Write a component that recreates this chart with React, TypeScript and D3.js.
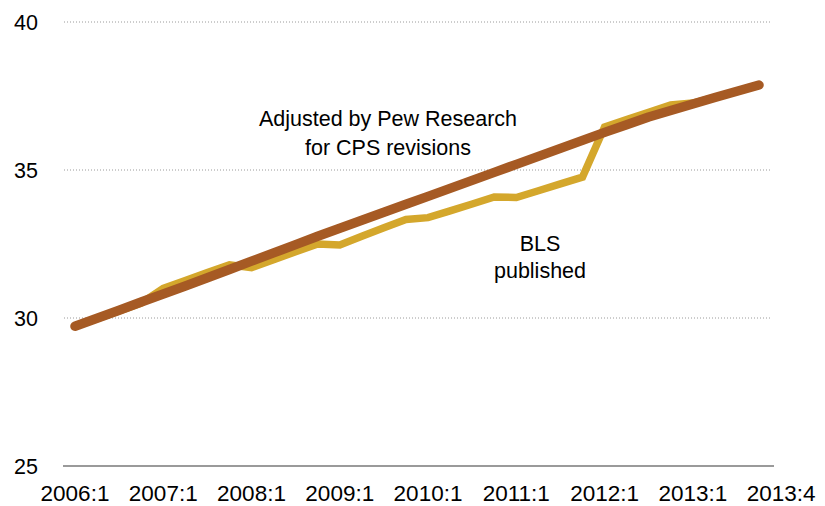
import React from "react";
import * as d3 from "d3";

const quarters: string[] = [
  "2006:1","2006:2","2006:3","2006:4",
  "2007:1","2007:2","2007:3","2007:4",
  "2008:1","2008:2","2008:3","2008:4",
  "2009:1","2009:2","2009:3","2009:4",
  "2010:1","2010:2","2010:3","2010:4",
  "2011:1","2011:2","2011:3","2011:4",
  "2012:1","2012:2","2012:3","2012:4",
  "2013:1","2013:2","2013:3","2013:4",
];

const pewAdjusted: number[] = [
  29.72, 29.99, 30.26, 30.54, 30.81, 31.08, 31.36, 31.64,
  31.92, 32.20, 32.48, 32.76, 33.03, 33.30, 33.57, 33.84,
  34.11, 34.38, 34.65, 34.92, 35.19, 35.46, 35.73, 36.00,
  36.27, 36.53, 36.79, 37.01, 37.23, 37.45, 37.66, 37.87,
];

const blsPublished: number[] = [
  29.72, 29.98, 30.24, 30.50, 31.00, 31.27, 31.54, 31.80,
  31.70, 31.97, 32.24, 32.50, 32.47, 32.76, 33.05, 33.33,
  33.39, 33.62, 33.85, 34.09, 34.07, 34.30, 34.53, 34.76,
  36.45, 36.70, 36.95, 37.20, 37.26, 37.45, 37.66, 37.87,
];

const yTicks: number[] = [25, 30, 35, 40];
const xTickIndex: number[] = [0, 4, 8, 12, 16, 20, 24, 28, 32];
const xTickLabels: string[] = [
  "2006:1","2007:1","2008:1","2009:1","2010:1","2011:1","2012:1","2013:1","2013:4",
];

const W = 825;
const H = 506;
const FONT = "'Liberation Sans', Arial, sans-serif";

export default function App() {
  const x = d3.scaleLinear().domain([0, quarters.length - 1]).range([75, 759]);
  const y = d3.scaleLinear().domain([25, 40]).range([466, 22]);

  const line = d3
    .line<number>()
    .x((_, i) => x(i))
    .y((d) => y(d));

  return (
    <svg
      width={W}
      height={H}
      style={{ position: "fixed", left: 0, top: 0, background: "#fff" }}
    >
      {yTicks.map((t) =>
        t === 25 ? (
          <line key={t} x1={63} x2={774} y1={y(t)} y2={y(t)} stroke="#9a9a9a" strokeWidth={2} />
        ) : (
          <line
            key={t}
            x1={64}
            x2={770}
            y1={y(t)}
            y2={y(t)}
            stroke="#9a9a9a"
            strokeWidth={1}
            strokeDasharray="1,2"
          />
        )
      )}
      {yTicks.map((t) => (
        <text
          key={"yl" + t}
          x={38}
          y={y(t) + 7.5}
          textAnchor="end"
          fontFamily={FONT}
          fontSize={21.5}
          fill="#000"
        >
          {t}
        </text>
      ))}
      {xTickIndex.map((idx, k) => (
        <text
          key={"xl" + k}
          x={x(idx)}
          y={501}
          textAnchor="middle"
          fontFamily={FONT}
          fontSize={22.5}
          fill="#000"
        >
          {xTickLabels[k]}
        </text>
      ))}
      <path
        d={line(blsPublished) || ""}
        fill="none"
        stroke="#D4A72C"
        strokeWidth={7.5}
        strokeLinejoin="miter"
        strokeLinecap="butt"
      />
      <path
        d={line(pewAdjusted) || ""}
        fill="none"
        stroke="#A65A24"
        strokeWidth={9.5}
        strokeLinejoin="round"
        strokeLinecap="round"
      />
      <g fontFamily={FONT} fontSize={21.5} fill="#000" textAnchor="middle">
        <text x={388} y={126}>Adjusted by Pew Research</text>
        <text x={388} y={155}>for CPS revisions</text>
        <text x={540} y={251}>BLS</text>
        <text x={540} y={278}>published</text>
      </g>
    </svg>
  );
}
